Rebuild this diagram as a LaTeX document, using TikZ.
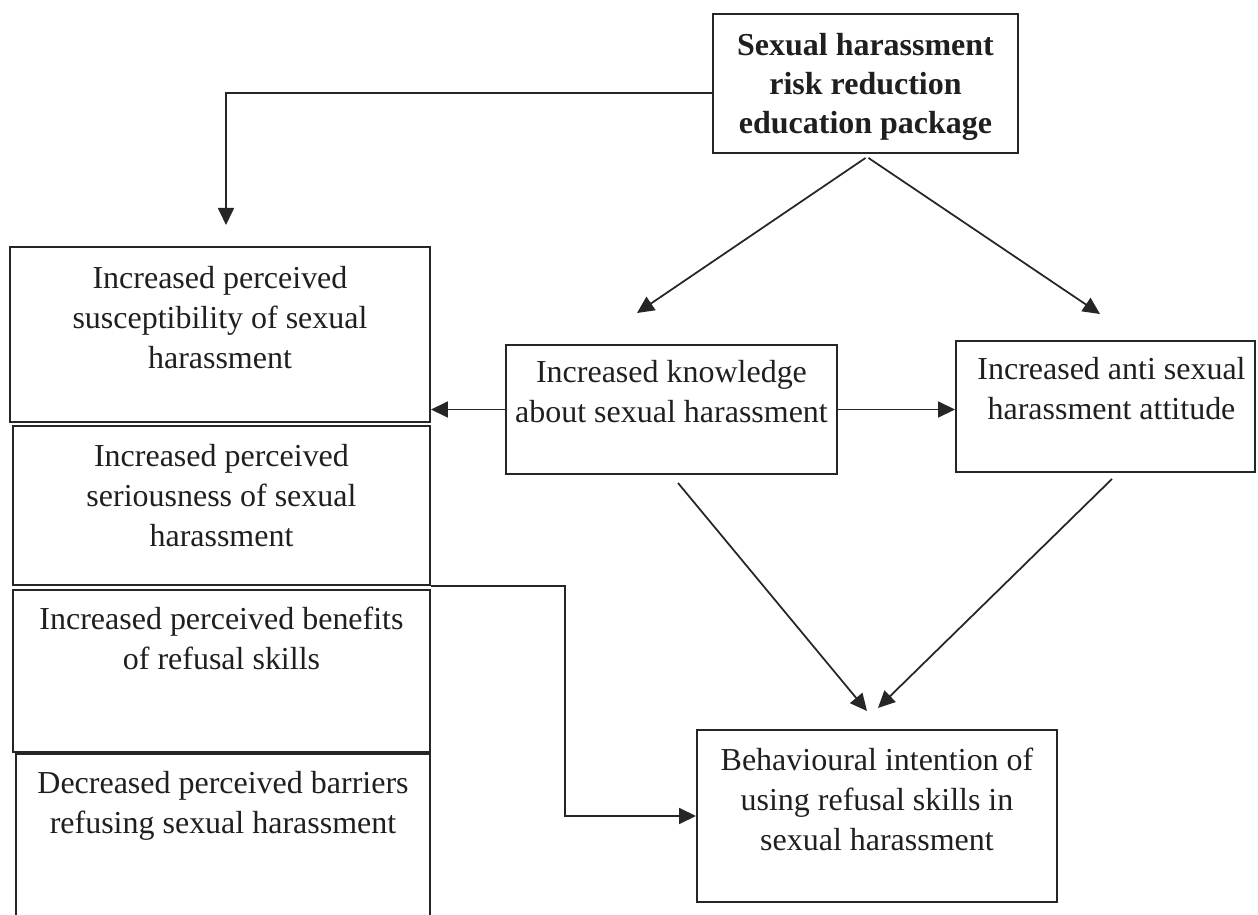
\documentclass[tikz,border=0pt]{standalone}
\usepackage{fontspec}
\setmainfont{Liberation Serif}
\usetikzlibrary{arrows.meta,calc,fit}

\begin{document}
\begin{tikzpicture}[x=0.2mm,y=-0.2mm,
  every node/.style={font=\fontsize{18.2pt}{22.6pt}\selectfont,text=black!88},
  box/.style={draw=black!85,line width=1.1pt,inner sep=0pt},
  txt/.style={anchor=north,align=center,inner sep=0pt},
  arr/.style={draw=black!85,line width=1pt,-{Triangle[length=3.4mm,width=3.2mm]}}]
\useasboundingbox (0,0) rectangle (1258,915);
\clip (0,0) rectangle (1258,915);
% boxes
\node[box,fit={(713,14) (1018,153)}] (pkg) {};
\node[box,fit={(10,247) (430,422)}] (sus) {};
\node[box,fit={(13,426) (430,585)}] (ser) {};
\node[box,fit={(13,590) (430,752)}] (ben) {};
\node[box,fit={(16,754) (430,940)}] (bar) {};
\node[box,fit={(506,345) (837,474)}] (know) {};
\node[box,fit={(956,341) (1255,472)}] (att) {};
\node[box,fit={(697,730) (1057,902)}] (beh) {};
% texts
\node[txt,font=\fontsize{18.2pt}{22.2pt}\selectfont\bfseries] (pkgT) at ($(pkg.north)+(0,20)$) {Sexual harassment\\risk reduction\\education package};
\node[txt] (susT) at ($(sus.north)+(0,20)$) {Increased perceived\\susceptibility of sexual\\harassment};
\node[txt] (serT) at ($(ser.north)+(0,19)$) {Increased perceived\\seriousness of sexual\\harassment};
\node[txt] (benT) at ($(ben.north)+(0,18)$) {Increased perceived benefits\\of refusal skills};
\node[txt] (barT) at ($(bar.north)+(0,18)$) {Decreased perceived barriers\\refusing sexual harassment};
\node[txt] (knowT) at ($(know.north)+(0,16)$) {Increased knowledge\\about sexual harassment};
\node[txt] (attT) at ($(att.north)+(6,17)$) {Increased anti sexual\\harassment attitude};
\node[txt] (behT) at ($(beh.north)+(0,19)$) {Behavioural intention of\\using refusal skills in\\sexual harassment};
% arrow ends
\coordinate (susTip) at (226,225);
\coordinate (knowTip) at (637,313);
\coordinate (attTip) at (1100,314);
\coordinate (behTipL) at (867,711);
\coordinate (behTipR) at (878,708);
% connectors
\draw[arr] ($(pkg.west)+(0,9.5)$) -| (susTip);
\draw[arr] ($(pkg.south)+(0,4)$) -- (knowTip);
\draw[arr] ($(pkg.south)+(3,4)$) -- (attTip);
\draw[arr] (know.west) -- (know.west -| sus.east);
\draw[arr] (know.east) -- (know.east -| att.west);
\draw[arr] ($(know.south)+(6.5,8)$) -- (behTipL);
\draw[arr] ($(att.south)+(6.5,6)$) -- (behTipR);
\draw[arr] (ser.south east) -- ++(134,0) |- (beh.west);
\end{tikzpicture}
\end{document}
